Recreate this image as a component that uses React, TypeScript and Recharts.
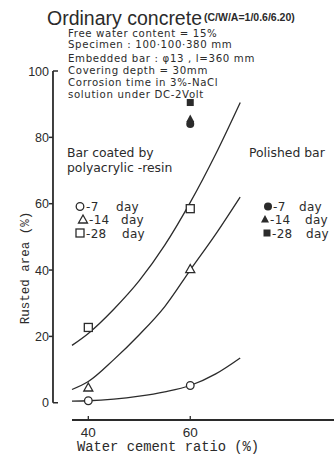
import React from "react";
import {
  ComposedChart,
  Line,
  Scatter,
  XAxis,
  YAxis,
  ReferenceLine,
} from "recharts";

// fitted curves (water cement ratio %, rusted area %)
const curveX = [36.8, 40, 45, 50, 55, 60, 65, 69.8];
const coated28Curve = [17.3, 20.9, 28.2, 36.8, 47.5, 60.4, 75, 90.5];
const coated14Curve = [4, 6.4, 13, 20.5, 29, 40, 50.8, 62];
const coated7Curve = [0.5, 0.6, 1.1, 2, 3.3, 5.2, 8.7, 13.5];

// measured points
const coatedX = [40, 60];
const coated7 = [0.6, 5.2];
const coated14 = [4.6, 40.3];
const coated28 = [22.7, 58.5];
const polishedX = [60];
const polished7 = [84];
const polished14 = [85.5];
const polished28 = [90.5];

const xTicks = [40, 60];
const yTicks = [0, 20, 40, 60, 80, 100];

const notes = [
  "Free water content = 15%",
  "Specimen : 100\u00b7100\u00b7380 mm",
  "Embedded bar : \u03c613 , l=360 mm",
  "Covering depth = 30mm",
  "Corrosion time in 3%-NaCl",
  "solution under DC-2Volt",
];
const noteBaselines = [36.5, 48, 61.5, 74, 86, 98];

const coatedLegend = [
  { kind: "oc", age: "-7", mx: 80, tx: 86, dx: 116, by: 211 },
  { kind: "ot", age: "-14", mx: 83, tx: 89, dx: 121, by: 224 },
  { kind: "os", age: "-28", mx: 80, tx: 86, dx: 122, by: 237.5 },
];
const polishedLegend = [
  { kind: "fc", age: "-7", mx: 268, tx: 273, dx: 299, by: 211 },
  { kind: "ft", age: "-14", mx: 265, tx: 270, dx: 305, by: 224 },
  { kind: "fs", age: "-28", mx: 267, tx: 272, dx: 306, by: 237.5 },
];

const INK = "#2b2b2b";
const SANS = '"Liberation Sans", Arial, sans-serif';
const WIDE = '"DejaVu Sans", sans-serif';
const MONO = '"Liberation Mono", monospace';
const Y_AXIS_AT = 33.07;

const toPts = (xs: number[], ys: number[]) => xs.map((x, i) => ({ x, y: ys[i] }));

const HollowCircle = (p: any) => (
  <circle cx={p.cx} cy={p.cy} r={3.8} fill="#fff" stroke={INK} strokeWidth={1.3} />
);
const HollowSquare = (p: any) => (
  <rect x={p.cx - 4} y={p.cy - 4} width={8} height={8} fill="#fff" stroke={INK} strokeWidth={1.3} />
);
const HollowTri = (p: any) => (
  <path
    d={`M${p.cx},${p.cy - 4.5} L${p.cx + 4.5},${p.cy + 3.5} L${p.cx - 4.5},${p.cy + 3.5} Z`}
    fill="#fff"
    stroke={INK}
    strokeWidth={1.3}
  />
);
const FilledCircle = (p: any) => <circle cx={p.cx} cy={p.cy} r={4} fill={INK} />;
const FilledSquare = (p: any) => (
  <rect x={p.cx - 3.5} y={p.cy - 3.5} width={7} height={7} fill={INK} />
);
const FilledTri = (p: any) => (
  <path
    d={`M${p.cx},${p.cy - 4.5} L${p.cx + 4},${p.cy + 3} L${p.cx - 4},${p.cy + 3} Z`}
    fill={INK}
  />
);

const shapes: Record<string, (p: any) => React.ReactElement> = {
  oc: HollowCircle,
  ot: HollowTri,
  os: HollowSquare,
  fc: FilledCircle,
  ft: FilledTri,
  fs: FilledSquare,
};

const YTick = (props: any) => {
  const { x, y, payload } = props;
  const ax = x - 19;
  const v = payload.value;
  const right = v === 0 || v === 100;
  return (
    <g>
      <line x1={ax} x2={right ? ax + 5 : ax - 4} y1={y} y2={y} stroke={INK} strokeWidth={1.5} />
      <text x={ax - 4} y={y + 4.5} textAnchor="end" fontSize={12.5} fill={INK} fontFamily={SANS}>
        {v}
      </text>
    </g>
  );
};

const XTick = (props: any) => {
  const { x, y, payload } = props;
  return (
    <g>
      <line x1={x} x2={x} y1={y - 4} y2={y} stroke={INK} strokeWidth={1.3} />
      <text x={x} y={y + 16.5} textAnchor="middle" fontSize={13.5} fill={INK} fontFamily={SANS}>
        {payload.value}
      </text>
    </g>
  );
};

const LegendRow = ({ row }: { row: any }) => {
  const Shape = shapes[row.kind];
  return (
    <g>
      <Shape cx={row.mx} cy={row.by - 4.5} />
      <text x={row.tx} y={row.by}>{row.age}</text>
      <text x={row.dx} y={row.by}>day</text>
    </g>
  );
};

export default function App() {
  return (
    <div
      style={{
        position: "absolute",
        left: 0,
        top: 0,
        width: 334,
        height: 455,
        background: "#fff",
        overflow: "hidden",
      }}
    >
      <ComposedChart width={334} height={455} margin={{ top: 71, right: 0, bottom: 0, left: 0 }}>
        <XAxis
          type="number"
          dataKey="x"
          domain={[36.8, 88.2]}
          ticks={xTicks}
          height={35}
          tickSize={0}
          tickMargin={0}
          tickLine={false}
          tick={<XTick />}
          axisLine={{ stroke: INK, strokeWidth: 1.8 }}
        />
        <YAxis
          type="number"
          domain={[-5.2, 100]}
          ticks={yTicks}
          width={72}
          tickSize={0}
          tickMargin={0}
          tickLine={false}
          axisLine={false}
          tick={<YTick />}
        />
        <ReferenceLine
          segment={[
            { x: Y_AXIS_AT, y: 0 },
            { x: Y_AXIS_AT, y: 100 },
          ]}
          ifOverflow="visible"
          stroke={INK}
          strokeWidth={1.8}
        />
        <Line data={toPts(curveX, coated28Curve)} dataKey="y" type="monotone" stroke={INK} strokeWidth={1.3} dot={false} isAnimationActive={false} />
        <Line data={toPts(curveX, coated14Curve)} dataKey="y" type="monotone" stroke={INK} strokeWidth={1.3} dot={false} isAnimationActive={false} />
        <Line data={toPts(curveX, coated7Curve)} dataKey="y" type="monotone" stroke={INK} strokeWidth={1.3} dot={false} isAnimationActive={false} />
        <Scatter data={toPts(coatedX, coated7)} dataKey="y" shape={HollowCircle} isAnimationActive={false} />
        <Scatter data={toPts(coatedX, coated14)} dataKey="y" shape={HollowTri} isAnimationActive={false} />
        <Scatter data={toPts(coatedX, coated28)} dataKey="y" shape={HollowSquare} isAnimationActive={false} />
        <Scatter data={toPts(polishedX, polished7)} dataKey="y" shape={FilledCircle} isAnimationActive={false} />
        <Scatter data={toPts(polishedX, polished14)} dataKey="y" shape={FilledTri} isAnimationActive={false} />
        <Scatter data={toPts(polishedX, polished28)} dataKey="y" shape={FilledSquare} isAnimationActive={false} />
      </ComposedChart>

      {/* annotations */}
      <svg
        width={334}
        height={455}
        style={{ position: "absolute", left: 0, top: 0, pointerEvents: "none" }}
        fill={INK}
      >
        <text x={47} y={25} fontFamily={SANS} fontSize={19.5}>
          Ordinary concrete
        </text>
        <text x={204} y={20.5} fontFamily={SANS} fontSize={10.5} fontWeight="bold">
          (C/W/A=1/0.6/6.20)
        </text>
        <g fontFamily={WIDE} fontSize={10.2} letterSpacing={0.65}>
          {notes.map((n, i) => (
            <text key={n} x={68} y={noteBaselines[i]}>
              {n}
            </text>
          ))}
        </g>

        <g fontFamily={WIDE} fontSize={12.4}>
          <text x={67} y={157}>Bar coated by</text>
          <text x={67} y={172}>polyacrylic -resin</text>
          <text x={249} y={157}>Polished bar</text>
        </g>
        <g fontFamily={WIDE} fontSize={12} letterSpacing={0.3}>
          {coatedLegend.map((r) => (
            <LegendRow key={r.kind} row={r} />
          ))}
          {polishedLegend.map((r) => (
            <LegendRow key={r.kind} row={r} />
          ))}
        </g>

        <text
          transform="translate(29, 268) rotate(-90)"
          textAnchor="middle"
          fontFamily={MONO}
          fontSize={12.5}
        >
          Rusted area (%)
        </text>
        <text x={77} y={451} fontFamily={MONO} fontSize={13.8}>
          Water cement ratio (%)
        </text>
      </svg>
    </div>
  );
}
